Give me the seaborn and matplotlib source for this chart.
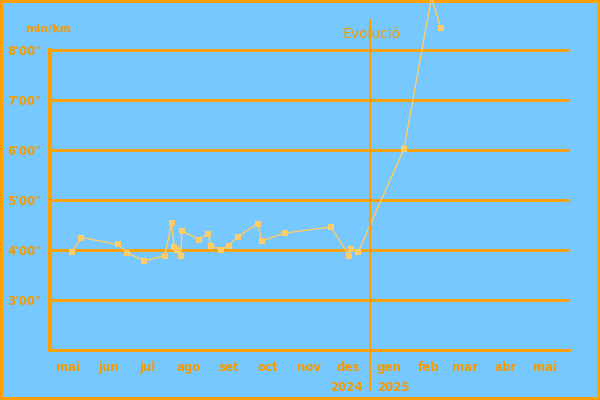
import pandas as pd
import matplotlib
matplotlib.use("Agg")
import matplotlib.pyplot as plt
import seaborn as sns

# dades: data de la cursa i ritme (minuts per km)
dates = ["2024-05-18", "2024-05-25", "2024-06-22", "2024-06-29", "2024-07-12",
         "2024-07-28", "2024-08-02", "2024-08-04", "2024-08-06", "2024-08-09",
         "2024-08-10", "2024-08-23", "2024-08-30", "2024-09-01", "2024-09-09",
         "2024-09-15", "2024-09-22", "2024-10-07", "2024-10-10", "2024-10-28",
         "2024-12-02", "2024-12-16", "2024-12-17", "2024-12-23", "2025-01-27",
         "2025-02-17", "2025-02-24"]
pace = [3.97, 4.25, 4.11, 3.95, 3.78,
        3.89, 4.54, 4.07, 4.00, 3.89,
        4.38, 4.21, 4.33, 4.09, 4.01,
        4.09, 4.27, 4.53, 4.18, 4.34,
        4.46, 3.89, 4.02, 3.97, 6.03,
        9.06, 8.45]
month_labels = ["mai", "jun", "jul", "ago", "set", "oct", "nov", "des",
                "gen", "feb", "mar", "abr", "mai"]
year_labels = ["2024", "2025"]

df = pd.DataFrame({"data": pd.to_datetime(dates), "ritme": pace})

BG = "#76C8FF"
ORANGE = "#FFA000"
TXT = "#F59B00"
LINE = "#FFCC66"

sns.set_style("white")
fig = plt.figure(figsize=(6, 4), dpi=100, facecolor=BG, edgecolor=ORANGE, linewidth=4)
ax = fig.add_axes([50 / 600, 50 / 400, 520 / 600, 330 / 400])
ax.set_facecolor(BG)

sns.lineplot(data=df, x="data", y="ritme", ax=ax, color=LINE, linewidth=1,
             marker="s", markersize=4, markeredgewidth=0, clip_on=False)

# eix Y
yt = [2, 3, 4, 5, 6, 7, 8]
ax.set_yticks(yt)
ax.set_yticklabels([""] + [f"{v}'00\"" for v in yt[1:]], fontsize=8.5,
                   fontweight="bold", color=TXT)
ax.tick_params(axis="y", length=5, width=2, color=ORANGE, pad=1)
ax.yaxis.grid(True, color=ORANGE, linewidth=2)
ax.set_axisbelow(True)

# eix X: mesos al mig
ticks = pd.date_range("2024-05-01", periods=13, freq="MS") + pd.Timedelta(days=14)
ax.set_xticks(ticks)
ax.set_xticklabels(month_labels, fontsize=8.5, fontweight="bold", color=TXT)
ax.tick_params(axis="x", length=0, pad=8)

ax.set_xlim(pd.Timestamp("2024-05-01"), pd.Timestamp("2025-06-03"))
ax.set_ylim(2, 8.6)

for s in ["top", "right"]:
    ax.spines[s].set_visible(False)
ax.spines["left"].set_color(ORANGE)
ax.spines["left"].set_linewidth(3)
ax.spines["left"].set_bounds(2, 8)
ax.spines["bottom"].set_color(ORANGE)
ax.spines["bottom"].set_linewidth(2)

# separacio d'any
ny = pd.Timestamp("2025-01-01")
ax.axvline(ny, ymin=-0.12, ymax=1.0, color=ORANGE, linewidth=1.5, clip_on=False)
ax.text(ny - pd.Timedelta(days=6), -0.115, year_labels[0], transform=ax.get_xaxis_transform(),
        ha="right", va="center", fontsize=8.5, fontweight="bold", color=TXT)
ax.text(ny + pd.Timedelta(days=5), -0.115, year_labels[1], transform=ax.get_xaxis_transform(),
        ha="left", va="center", fontsize=8.5, fontweight="bold", color=TXT)

ax.set_xlabel("")
ax.set_ylabel("")
fig.text(48 / 600, 1 - 29 / 400, "min/km", ha="center", va="center",
         fontsize=8, fontweight="bold", color=TXT)
fig.text(372 / 600, 1 - 34 / 400, "Evolució", ha="center", va="center",
         fontsize=10, color=TXT)

fig.savefig("out.png", dpi=100, facecolor=fig.get_facecolor(), edgecolor=fig.get_edgecolor())
